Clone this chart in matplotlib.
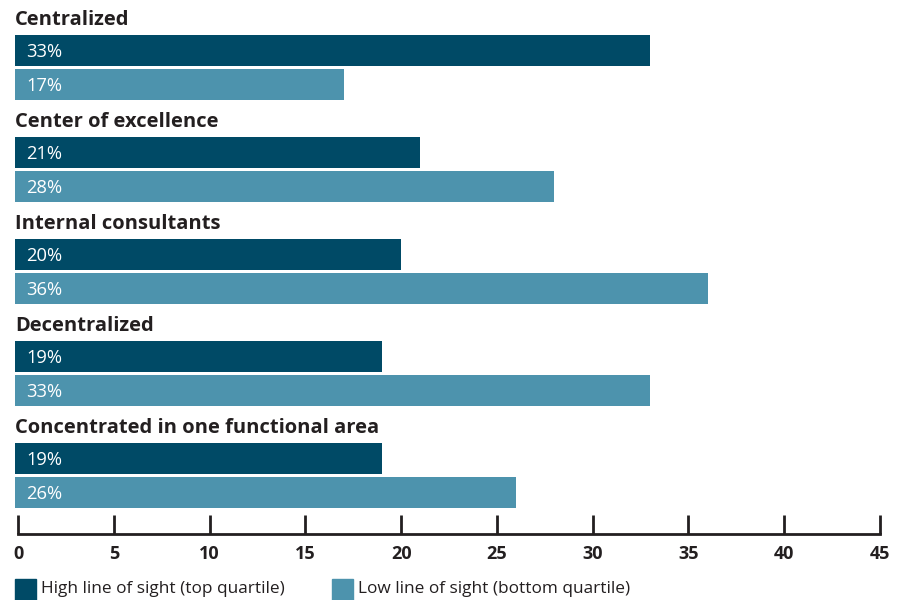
import matplotlib.pyplot as plt
from matplotlib.patches import Rectangle

categories = [
    "Centralized",
    "Center of excellence",
    "Internal consultants",
    "Decentralized",
    "Concentrated in one functional area",
]
high_values = [33, 21, 20, 19, 19]
low_values = [17, 28, 36, 33, 26]
series_names = ["High line of sight (top quartile)", "Low line of sight (bottom quartile)"]
xticks = [0, 5, 10, 15, 20, 25, 30, 35, 40, 45]

dark = "#004a66"
light = "#4d93ad"
ink = "#231f20"

plt.rcParams["font.family"] = ["Open Sans", "DejaVu Sans"]

W, H = 900, 600
fig = plt.figure(figsize=(W / 100, H / 100), dpi=100)
# axes: x from 0..45 over pixels 18..880, y from top of figure down to axis line at 534
ax = fig.add_axes([18 / W, (H - 534) / H, 862 / W, 534 / H])
group = 102.0  # pixels per category group
ax.set_xlim(0, 45)
ax.set_ylim(534 / group, 0)

bar_h = 31 / group
label_off = 20 / group
high_off = 50.5 / group
low_off = 84.5 / group
start = -0.15  # bars begin just left of the zero tick

for i, (cat, hv, lv) in enumerate(zip(categories, high_values, low_values)):
    ax.text(start, i + label_off, cat, fontsize=14.5, fontweight="bold",
            color=ink, va="center", ha="left", clip_on=False)
    ax.barh(i + high_off, hv - start, height=bar_h, color=dark, left=start,
            clip_on=False)
    ax.barh(i + low_off, lv - start, height=bar_h, color=light, left=start,
            clip_on=False)
    ax.text(0.45, i + high_off + 0.01, f"{hv}%", fontsize=13.2, color="white",
            va="center", ha="left")
    ax.text(0.45, i + low_off + 0.01, f"{lv}%", fontsize=13.2, color="white",
            va="center", ha="left")

for s in ["top", "right", "left"]:
    ax.spines[s].set_visible(False)
ax.spines["bottom"].set_linewidth(2)
ax.spines["bottom"].set_color(ink)
ax.set_yticks([])
ax.set_xticks(xticks)
ax.set_xticklabels([str(t) for t in xticks], fontweight="bold", fontsize=13, color=ink)
ax.tick_params(axis="x", direction="in", length=14, width=2, color=ink, pad=8)

# legend drawn in figure pixels
for x0, color, name in [(15, dark, series_names[0]), (332, light, series_names[1])]:
    fig.patches.append(Rectangle((x0 / W, (H - 600) / H), 21 / W, 21 / H,
                                 transform=fig.transFigure, color=color))
    fig.text((x0 + 26) / W, (H - 589) / H, name, fontsize=12.4, color=ink,
             va="center", ha="left")

fig.savefig("out.png", dpi=100)
